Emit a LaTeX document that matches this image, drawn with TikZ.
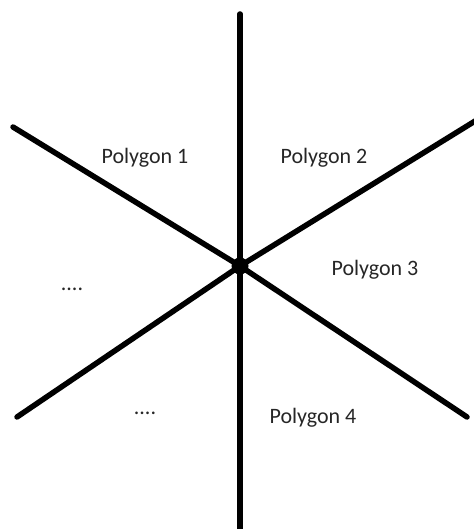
\documentclass[tikz,border=0pt]{standalone}
\usepackage{fontspec}
\setmainfont{Carlito}
\begin{document}
\begin{tikzpicture}[x=1pt,y=-1pt,
  ray/.style={line width=5.5pt,line cap=round},
  lbl/.style={font=\fontsize{22}{26}\selectfont, inner sep=0pt, text=black!85}]
\useasboundingbox (0,0) rectangle (473,529);
\coordinate (c) at (240,266);
\coordinate (t) at (240,14);
\coordinate (b) at (240,535);
\coordinate (ul) at (13,127);
\coordinate (lr) at (467,417);
\coordinate (ll) at (17,417);
\coordinate (ur) at (480,118);
\draw[ray] (t) -- (c);
\draw[ray,line cap=butt] (c) -- (b);
\draw[ray] (ul) -- (c) -- (lr);
\draw[ray] (ll) -- (c);
\draw[ray,line cap=butt] (c) -- (ur);
\fill (c) circle (8.5);
\node[lbl] (p1) at (145,158) {Polygon 1};
\node[lbl] (p2) at (324,158) {Polygon 2};
\node[lbl] (p3) at (375,270) {Polygon 3};
\node[lbl] (p4) at (313,418) {Polygon 4};
\node[lbl] (d1) at (72,289) {....};
\node[lbl] (d2) at (145,413) {....};
\end{tikzpicture}
\end{document}
